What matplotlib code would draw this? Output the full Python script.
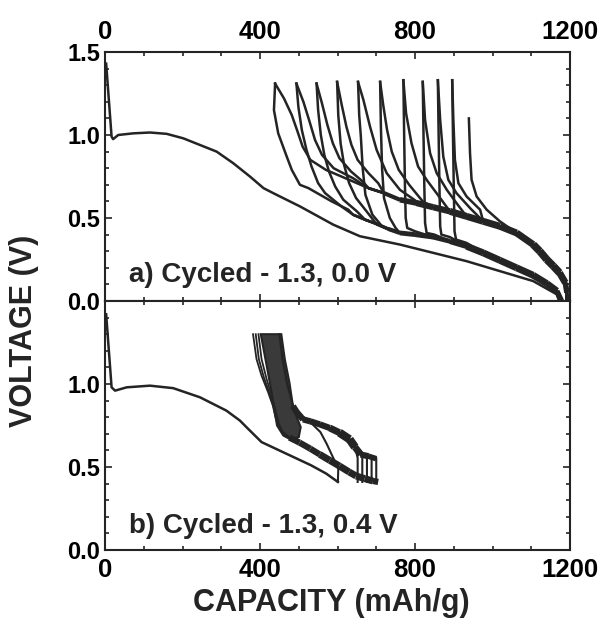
import matplotlib
matplotlib.use("Agg")
import matplotlib.pyplot as plt
from matplotlib.collections import LineCollection
from matplotlib.ticker import MultipleLocator

plt.rcParams['font.family'] = ['Liberation Sans', 'DejaVu Sans']
plt.rcParams['font.weight'] = 'bold'

ink = '#242424'

# ---- panel a) cycled 1.3 - 0.0 V ----
# first discharge
a_d1_cap = [3, 17, 21, 34, 73, 116, 159, 202, 245, 288, 331, 374, 409, 434, 503, 589, 658, 761, 847, 933, 1019, 1105, 1166, 1172]
a_d1_v = [1.43, 0.99, 0.975, 1.0, 1.01, 1.015, 1.007, 0.98, 0.94, 0.90, 0.83, 0.75, 0.68, 0.65, 0.57, 0.46, 0.39, 0.34, 0.29, 0.24, 0.18, 0.12, 0.04, 0.0]

# common charge path (upper band), from the 0 V end
ub_cap = [1192, 1192, 1188, 1173, 1157, 1140, 1122, 1105, 1062, 1019, 976, 933, 890, 847, 804, 761, 720, 680]
ub_v = [0.0, 0.05, 0.11, 0.17, 0.21, 0.25, 0.30, 0.34, 0.41, 0.45, 0.48, 0.51, 0.54, 0.565, 0.59, 0.61, 0.65, 0.68]
ub_w = [2.5, 4, 5, 5.5, 5.5, 5.5, 5.5, 5, 5, 5, 5, 5, 4.5, 4.5, 4, 3, 2, 1.8]

# common discharge path (lower band)
lb_cap = [640, 671, 700, 730, 761, 800, 847, 890, 933, 976, 1019, 1062, 1105, 1140, 1166, 1178]
lb_v = [0.52, 0.49, 0.465, 0.435, 0.41, 0.40, 0.385, 0.36, 0.33, 0.29, 0.245, 0.20, 0.155, 0.105, 0.06, 0.0]
lb_w = [1.8, 2, 2.5, 3, 3.5, 3.5, 3.5, 4, 5, 5, 5, 5, 5, 5, 4, 2.5]

# end of each charge (from the 1.3 V peak back to the band)
ch_caps = [
    [439, 462, 482, 497, 510, 530, 570, 630],
    [494, 512, 528, 542, 560, 590, 640],
    [546, 560, 574, 588, 605, 635, 665],
    [599, 611, 623, 636, 652, 680, 705],
    [653, 667, 684, 701, 727, 761, 804],
    [710, 718, 728, 740, 758, 785, 820],
    [770, 777, 791, 808, 830, 865],
    [820, 826, 839, 856, 882, 907],
    [859, 865, 873, 886, 907, 942],
    [896, 899, 903, 912, 933, 968],
    [939, 942, 946, 959, 985, 1019]]
ch_volts = [
    [1.31, 1.22, 1.12, 1.02, 0.93, 0.85, 0.79, 0.73],
    [1.31, 1.20, 1.08, 0.97, 0.88, 0.80, 0.74],
    [1.31, 1.19, 1.06, 0.95, 0.86, 0.78, 0.72],
    [1.32, 1.18, 1.05, 0.94, 0.85, 0.77, 0.71],
    [1.32, 1.21, 1.05, 0.91, 0.77, 0.67, 0.60],
    [1.32, 1.18, 1.03, 0.90, 0.79, 0.70, 0.60],
    [1.33, 1.13, 0.95, 0.81, 0.73, 0.62],
    [1.32, 1.09, 0.89, 0.77, 0.67, 0.59],
    [1.33, 1.09, 0.87, 0.73, 0.65, 0.56],
    [1.33, 1.09, 0.85, 0.71, 0.63, 0.55],
    [1.10, 0.89, 0.73, 0.63, 0.55, 0.48]]

# start of each later discharge (from the peak down to the band)
dc_caps = [
    [439, 436, 447, 469, 482, 503, 525, 585, 628],
    [494, 499, 508, 520, 533, 550, 568, 610],
    [546, 550, 557, 566, 578, 594, 615, 650],
    [599, 602, 608, 617, 630, 648, 675],
    [653, 656, 660, 665, 672, 690, 715],
    [710, 712, 715, 720, 735, 750],
    [770, 772, 774, 776, 780, 800],
    [820, 822, 824, 826, 830, 850],
    [859, 861, 863, 865, 868, 890],
    [896, 898, 900, 902, 906, 933]]
dc_volts = [
    [1.31, 1.15, 1.01, 0.87, 0.79, 0.70, 0.68, 0.60, 0.55],
    [1.31, 1.17, 1.03, 0.91, 0.81, 0.71, 0.65, 0.57],
    [1.31, 1.15, 1.00, 0.88, 0.78, 0.69, 0.61, 0.54],
    [1.32, 1.12, 0.95, 0.82, 0.71, 0.62, 0.54],
    [1.32, 1.12, 1.00, 0.80, 0.64, 0.52, 0.45],
    [1.32, 1.05, 0.80, 0.62, 0.50, 0.44],
    [1.33, 1.00, 0.70, 0.50, 0.44, 0.42],
    [1.32, 1.00, 0.70, 0.47, 0.41, 0.40],
    [1.33, 1.00, 0.70, 0.45, 0.40, 0.385],
    [1.33, 1.00, 0.70, 0.42, 0.37, 0.35]]

# ---- panel b) cycled 1.3 - 0.4 V ----
b_d1_cap = [3, 17, 26, 56, 116, 176, 245, 313, 348, 365, 404, 468, 532, 571, 601]
b_d1_v = [1.42, 0.98, 0.96, 0.98, 0.99, 0.975, 0.92, 0.84, 0.78, 0.74, 0.65, 0.58, 0.51, 0.46, 0.41]
b_c1_cap = [601, 602, 590, 572, 556, 530, 505, 485, 470, 458, 450]
b_c1_v = [0.41, 0.49, 0.55, 0.64, 0.71, 0.77, 0.79, 0.87, 1.0, 1.15, 1.30]

# charge branch and discharge branch of the loops
bb_cap = [700, 680, 660, 645, 631, 605, 580, 554, 530, 511, 495, 485]
bb_v = [0.55, 0.565, 0.575, 0.62, 0.667, 0.707, 0.735, 0.757, 0.775, 0.787, 0.83, 0.867]
bb_w = [4, 4.5, 5, 6, 6, 5, 4.5, 4.5, 4.5, 4.5, 4.5, 4.5]
bl_cap = [476, 502, 530, 554, 580, 605, 630, 648, 670, 691, 705]
bl_v = [0.677, 0.647, 0.61, 0.576, 0.54, 0.506, 0.47, 0.446, 0.43, 0.416, 0.41]
bl_w = [4.5, 4.5, 4.5, 5, 5, 5, 5, 5, 5, 4.5, 3]

# dense upper part of the loops
ba_cap = [402, 414, 430, 435, 444, 460, 480, 500, 505, 495, 485, 476, 464, 455]
ba_v = [1.30, 1.15, 0.95, 0.87, 0.75, 0.69, 0.665, 0.68, 0.74, 0.80, 0.867, 1.008, 1.149, 1.30]

# charge starts at the 0.4 V end
b_start_cap = [652, 664, 676, 688, 700]

# separate discharge lines on the left of the loops
bl_lines_cap = [
    [382, 391, 404, 421, 433, 440, 455, 476],
    [389, 397, 410, 425, 436, 443, 458],
    [396, 404, 417, 430, 439, 447]]
bl_lines_v = [
    [1.30, 1.15, 1.05, 0.95, 0.87, 0.80, 0.72, 0.677],
    [1.30, 1.15, 1.04, 0.94, 0.86, 0.79, 0.71],
    [1.30, 1.15, 1.03, 0.93, 0.85, 0.78]]

x_ticks = [0, 400, 800, 1200]


def band(ax, xs, ys, ws):
    segs = [[(xs[i], ys[i]), (xs[i + 1], ys[i + 1])] for i in range(len(xs) - 1)]
    lc = LineCollection(segs, linewidths=ws[:-1], colors=ink, capstyle='butt', joinstyle='round')
    ax.add_collection(lc)


fig = plt.figure(figsize=(6.08, 6.21), dpi=100)
ax1 = fig.add_axes([105 / 608, 1 - 301 / 621, 465 / 608, 249 / 621])
ax2 = fig.add_axes([105 / 608, 1 - 550 / 621, 465 / 608, 249 / 621])

lw = 1.8

# panel a
ax1.plot(a_d1_cap, a_d1_v, color=ink, lw=lw)
band(ax1, ub_cap, ub_v, ub_w)
band(ax1, lb_cap, lb_v, lb_w)
for hc, hv in zip(ch_caps, ch_volts):
    tail = [(c, v) for c, v in zip(ub_cap, ub_v) if c > hc[-1]]
    xs = [c for c, v in tail] + hc[::-1]
    ys = [v for c, v in tail] + hv[::-1]
    ax1.plot(xs, ys, color=ink, lw=lw, solid_joinstyle='round')
for hc, hv in zip(dc_caps, dc_volts):
    tail = [(c, v) for c, v in zip(lb_cap, lb_v) if c > hc[-1]]
    xs = hc + [c for c, v in tail]
    ys = hv + [v for c, v in tail]
    ax1.plot(xs, ys, color=ink, lw=lw, solid_joinstyle='round')

# panel b
ax2.plot(b_d1_cap, b_d1_v, color=ink, lw=lw)
ax2.plot(b_c1_cap, b_c1_v, color=ink, lw=1.5)
band(ax2, bb_cap, bb_v, bb_w)
band(ax2, bl_cap, bl_v, bl_w)
ax2.fill(ba_cap, ba_v, facecolor='#3a3a3a', edgecolor=ink, lw=1.5)
for e in b_start_cap:
    path = [(c, v) for c, v in zip(bb_cap, bb_v) if c < e]
    ax2.plot([e, e] + [c for c, v in path], [0.41, 0.555] + [v for c, v in path], color=ink, lw=1.5)
for lc_, lv_ in zip(bl_lines_cap, bl_lines_v):
    ax2.plot(lc_, lv_, color=ink, lw=1.3)

for ax in (ax1, ax2):
    ax.set_xlim(0, 1200)
    ax.set_ylim(0, 1.5)
    ax.set_xticks(x_ticks)
    ax.set_xticklabels([str(t) for t in x_ticks])
    ax.xaxis.set_minor_locator(MultipleLocator(100))
    ax.yaxis.set_minor_locator(MultipleLocator(0.1))
    ax.tick_params(which='both', direction='in', top=True, right=True, width=1.2, color=ink)
    ax.tick_params(which='major', length=5)
    ax.tick_params(which='minor', length=3)
    ax.tick_params(axis='y', labelsize=17, pad=3.5)
    ax.tick_params(axis='x', labelsize=18.5, pad=6)
    for s in ax.spines.values():
        s.set_linewidth(1.5)
        s.set_color(ink)

ax1.set_yticks([0.0, 0.5, 1.0, 1.5])
ax1.set_yticklabels(['0.0', '0.5', '1.0', '1.5'])
ax2.set_yticks([0.0, 0.5, 1.0, 1.5])
ax2.set_yticklabels(['0.0', '0.5', '1.0', ''])
ax1.tick_params(axis='x', labeltop=True, labelbottom=False)

ax1.text(62, 0.155, 'a) Cycled - 1.3, 0.0 V', fontsize=20, fontweight='bold', va='center', color=ink)
ax2.text(62, 0.145, 'b) Cycled - 1.3, 0.4 V', fontsize=20, fontweight='bold', va='center', color=ink)

fig.text(331 / 608, 1 - 603 / 621, 'CAPACITY (mAh/g)', fontsize=22, fontweight='bold', ha='center', va='center', color=ink)
fig.text(24 / 608, 1 - 331 / 621, 'VOLTAGE (V)', fontsize=22, fontweight='bold', ha='center', va='center', rotation=90, color=ink)

fig.savefig('out.png', dpi=100)
